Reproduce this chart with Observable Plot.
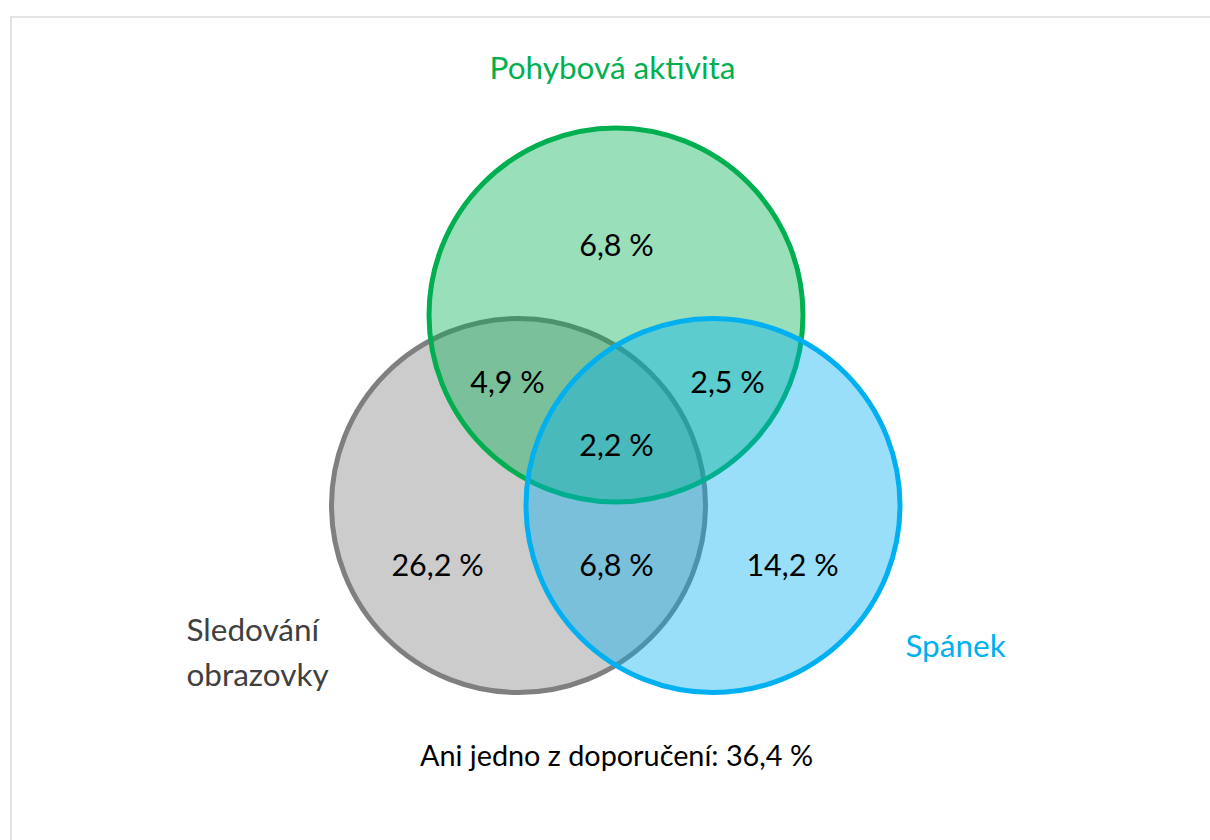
<!DOCTYPE html>
<html>
<head>
<meta charset="utf-8">
<script src="https://cdn.jsdelivr.net/npm/d3@7"></script>
<script src="https://cdn.jsdelivr.net/npm/@observablehq/plot@0.6"></script>
<style>
  html, body { margin: 0; padding: 0; background: #fff; }
  #wrap { position: relative; width: 1210px; height: 840px; overflow: hidden; }
  #frame { position: absolute; left: 10px; top: 16px; width: 1300px; height: 900px;
           border-left: 2px solid #e3e3e3; border-top: 2px solid #e3e3e3; box-sizing: border-box; }
  #chart { position: absolute; left: 0; top: 0; }
</style>
</head>
<body>
<div id="wrap"><div id="frame"></div><div id="chart"></div></div>
<script>
// ---- data ----
const sets = ["Sledování obrazovky", "Pohybová aktivita", "Spánek"];
const setLabels = ["Sledování\nobrazovky", "Pohybová aktivita", "Spánek"];
const regions = ["P", "S∩P", "P∩Sp", "S∩P∩Sp", "S", "S∩Sp", "Sp"];
const regionValues = [6.8, 4.9, 2.5, 2.2, 26.2, 6.8, 14.2];
const noneLabel = "Ani jedno z doporučení";
const noneValue = 36.4;

// ---- layout / styles ----
const R = 187;
const setLayout = {
  "Sledování obrazovky": {cx: 518, cy: 505, color: "#7f7f7f", text: "#404040", lx: 186, ly: 649, anchor: "start"},
  "Pohybová aktivita": {cx: 615.5, cy: 314.5, color: "#00b050", text: "#00b050", lx: 612, ly: 64, anchor: "middle"},
  "Spánek": {cx: 712.5, cy: 505, color: "#00b0f0", text: "#00b0f0", lx: 955, ly: 642, anchor: "middle"}
};
const regionPos = {
  "P": [616, 246], "S∩P": [507, 383], "P∩Sp": [727, 383], "S∩P∩Sp": [616, 446],
  "S": [437, 566], "S∩Sp": [616, 566], "Sp": [792, 566]
};
const fmt = v => v.toFixed(1).replace(".", ",") + " %";

const circleData = sets.map(s => ({name: s, ...setLayout[s], r: R}));
const setLabelData = sets.map((s, i) => ({label: setLabels[i], ...setLayout[s]}));
const regionData = regions.map((k, i) => ({x: regionPos[k][0], y: regionPos[k][1], label: fmt(regionValues[i])}));
const noneData = [{x: 616, y: 756, label: `${noneLabel}: ${fmt(noneValue)}`}];

const font = "Lato, 'Open Sans', sans-serif";

const chart = Plot.plot({
  width: 1210,
  height: 840,
  margin: 0,
  style: {background: "transparent", fontFamily: font},
  x: {domain: [0, 1210], range: [0, 1210], axis: null},
  y: {domain: [0, 840], range: [0, 840], axis: null},
  r: {type: "identity"},
  marks: [
    ...circleData.map(c => Plot.dot([c], {
      x: "cx", y: "cy", r: "r",
      fill: c.color, fillOpacity: 0.4,
      stroke: c.color, strokeWidth: 5
    })),
    Plot.text(regionData, {x: "x", y: "y", text: "label", fontSize: 30.5, fill: "#000", fontFamily: font}),
    ...setLabelData.map(d => Plot.text([d], {
      x: "lx", y: "ly", text: "label", fontSize: 31.5, fill: d.text,
      textAnchor: d.anchor, lineHeight: 1.43, fontFamily: font
    })),
    Plot.text(noneData, {x: "x", y: "y", text: "label", fontSize: 28.8, fill: "#000", fontFamily: font})
  ]
});
document.getElementById("chart").appendChild(chart);
</script>
</body>
</html>
